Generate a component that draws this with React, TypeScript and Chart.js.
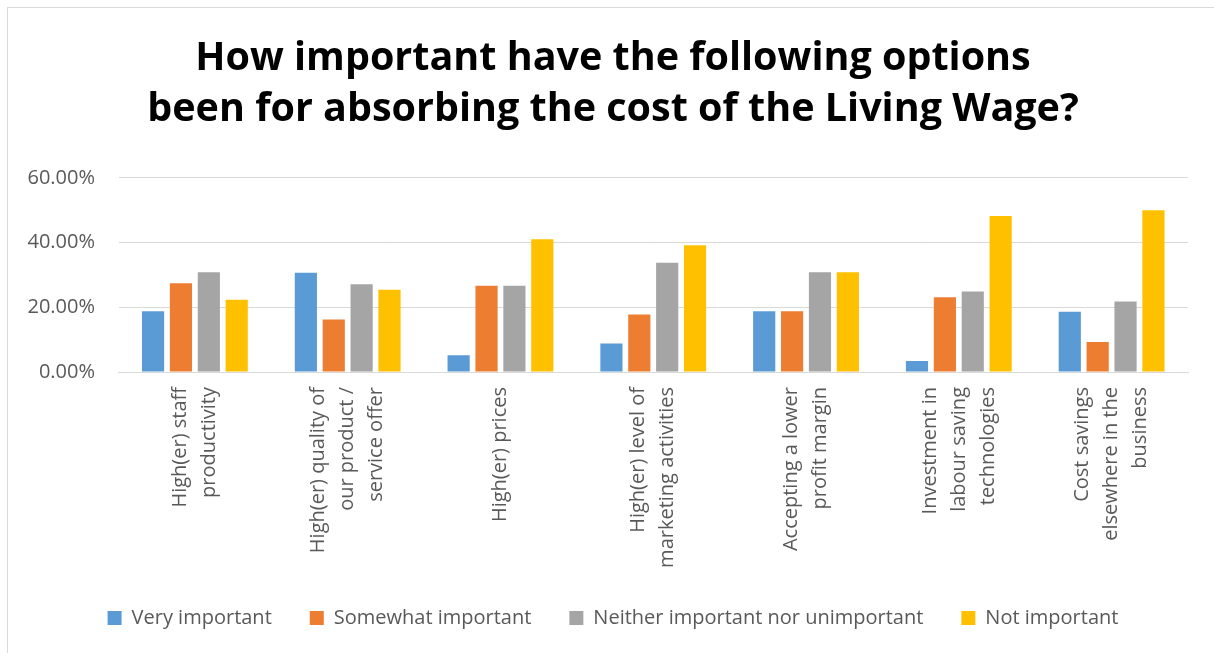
import React, { useEffect, useRef } from "react";
import { Chart, registerables } from "chart.js";

Chart.register(...registerables);

// ---- data ----
const categories: string[][] = [
  ["High(er) staff", "productivity"],
  ["High(er) quality of", "our product /", "service offer"],
  ["High(er) prices"],
  ["High(er) level of", "marketing activities"],
  ["Accepting a lower", "profit margin"],
  ["Investment in", "labour saving", "technologies"],
  ["Cost savings", "elsewhere in the", "business"],
];

const seriesNames = [
  "Very important",
  "Somewhat important",
  "Neither important nor unimportant",
  "Not important",
];

const veryImportant = [18.8, 30.7, 5.2, 8.8, 18.8, 3.4, 18.6];
const somewhatImportant = [27.4, 16.2, 26.7, 17.8, 18.8, 23.1, 9.3];
const neitherImportant = [30.8, 27.1, 26.7, 33.8, 30.8, 24.9, 21.8];
const notImportant = [22.3, 25.4, 41.0, 39.2, 30.8, 48.2, 50.0];

const yTicks = [0, 20, 40, 60];

const titleLines = [
  "How important have the following options",
  "been for absorbing the cost of the Living Wage?",
];

const seriesColors = ["#5B9BD5", "#ED7D31", "#A5A5A5", "#FFC000"];

// Chart.js stacks rotated label lines to one side of the tick; interleave
// half-height blank lines so every label block is centred on its tick.
const MAX_LINES = 3;
function centredLabel(lines: string[]): string[] {
  const out: string[] = [];
  for (let k = 0; k < MAX_LINES - lines.length; k++) out.push("");
  lines.forEach((l, i) => {
    if (i > 0) out.push("");
    out.push(l);
  });
  return out;
}

export default function App() {
  const canvasRef = useRef<HTMLCanvasElement | null>(null);

  useEffect(() => {
    const canvas = canvasRef.current;
    if (!canvas) return;
    Chart.defaults.font.family = "'Open Sans', sans-serif";
    Chart.defaults.color = "#595959";

    const seriesValues = [veryImportant, somewhatImportant, neitherImportant, notImportant];

    const chart = new Chart(canvas, {
      type: "bar",
      data: {
        labels: categories.map(centredLabel),
        datasets: seriesNames.map((name, i) => ({
          label: name,
          data: seriesValues[i],
          backgroundColor: seriesColors[i],
          borderWidth: 0,
          barPercentage: 0.795,
          categoryPercentage: 0.73,
        })),
      },
      options: {
        responsive: false,
        animation: false,
        devicePixelRatio: 1,
        layout: { padding: { left: 24, right: 12, top: 0, bottom: 15 } },
        plugins: {
          tooltip: { enabled: false },
          title: {
            display: true,
            text: titleLines,
            color: "#000000",
            font: { size: 39.5, weight: "bold", lineHeight: 1.29 },
            padding: { top: 33, bottom: 43 },
          },
          legend: {
            position: "bottom",
            labels: {
              boxWidth: 14,
              boxHeight: 14,
              padding: 38,
              color: "#595959",
              font: { size: 20 },
            },
          },
        },
        scales: {
          x: {
            grid: { display: false, drawTicks: false },
            border: { display: true, color: "#d9d9d9" },
            ticks: {
              autoSkip: false,
              maxRotation: 90,
              minRotation: 90,
              padding: 15,
              labelOffset: -29,
              color: "#595959",
              font: { size: 20, lineHeight: 0.725 },
            },
            afterFit: (s: any) => {
              s.height = 198;
            },
          },
          y: {
            min: 0,
            max: 60,
            afterBuildTicks: (s: any) => {
              s.ticks = yTicks.map((v) => ({ value: v }));
            },
            ticks: {
              padding: 23.5,
              color: "#595959",
              font: { size: 20 },
              callback: (v: any) => Number(v).toFixed(2) + "%",
            },
            grid: { color: "#d9d9d9", lineWidth: 1, drawTicks: false },
            border: { display: false },
            afterFit: (s: any) => {
              s.width = 94.5;
            },
          },
          rightSpacer: {
            type: "linear",
            axis: "y",
            position: "right",
            display: true,
            grid: { display: false, drawTicks: false },
            border: { display: false },
            ticks: { display: false },
            afterFit: (s: any) => {
              s.width = 14;
            },
          },
        },
      },
    });
    return () => chart.destroy();
  }, []);

  return (
    <div
      style={{
        position: "fixed",
        left: 0,
        top: 0,
        width: 1214,
        height: 653,
        overflow: "hidden",
        background: "#ffffff",
      }}
    >
      <div
        style={{
          position: "absolute",
          left: 7,
          top: 7,
          width: 1230,
          height: 670,
          border: "1px solid #d9d9d9",
          boxSizing: "border-box",
        }}
      />
      <canvas
        ref={canvasRef}
        width={1214}
        height={653}
        style={{ position: "absolute", left: 0, top: 0, width: 1214, height: 653 }}
      />
    </div>
  );
}
